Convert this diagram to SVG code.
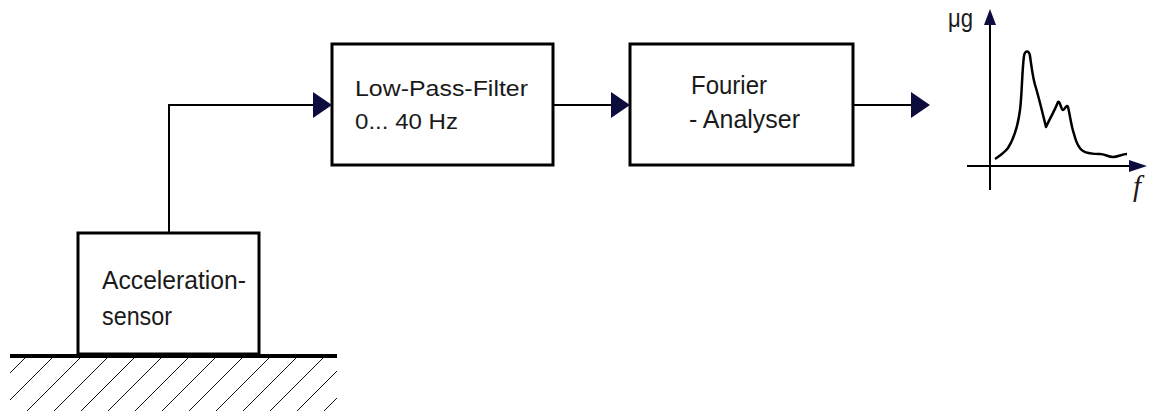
<svg xmlns="http://www.w3.org/2000/svg" width="1153" height="411" viewBox="0 0 1153 411">
<defs>
<style>
.box{fill:#fff;stroke:#000;stroke-width:3}
.ln{fill:none;stroke:#000;stroke-width:2}
.ah{fill:#0d0d3d}
.t{font-family:"Liberation Sans",Arial,sans-serif;font-size:26px;fill:#1a1a1a}
.tf{font-family:"Liberation Sans",Arial,sans-serif;font-size:21.5px;fill:#1a1a1a}
.h{stroke:#111;stroke-width:1}
</style>
<clipPath id="hc"><rect x="10" y="358" width="327" height="53"/></clipPath>
</defs>
<rect width="1153" height="411" fill="#fff"/>
<g id="ground">
<line x1="10" y1="356" x2="337" y2="356" stroke="#000" stroke-width="4"/>
<g class="h" clip-path="url(#hc)">
<line x1="25" y1="358" x2="-28" y2="411"/>
<line x1="52" y1="358" x2="-1" y2="411"/>
<line x1="80" y1="358" x2="27" y2="411"/>
<line x1="107" y1="358" x2="54" y2="411"/>
<line x1="134" y1="358" x2="81" y2="411"/>
<line x1="161" y1="358" x2="108" y2="411"/>
<line x1="188" y1="358" x2="135" y2="411"/>
<line x1="215" y1="358" x2="162" y2="411"/>
<line x1="242" y1="358" x2="189" y2="411"/>
<line x1="269" y1="358" x2="216" y2="411"/>
<line x1="296" y1="358" x2="243" y2="411"/>
<line x1="323" y1="358" x2="270" y2="411"/>
<line x1="350" y1="358" x2="297" y2="411"/>
<line x1="377" y1="358" x2="324" y2="411"/>
</g>
</g>
<g id="sensor">
<rect class="box" x="78" y="233" width="181" height="121"/>
<text class="t" x="102" y="289" textLength="144" lengthAdjust="spacingAndGlyphs">Acceleration-</text>
<text class="t" x="102" y="325" textLength="70" lengthAdjust="spacingAndGlyphs">sensor</text>
</g>
<g id="filter">
<rect class="box" x="332" y="44" width="221" height="121"/>
<text class="tf" x="355" y="96" textLength="173" lengthAdjust="spacingAndGlyphs">Low-Pass-Filter</text>
<text class="tf" x="355" y="129" textLength="103" lengthAdjust="spacingAndGlyphs">0... 40 Hz</text>
</g>
<g id="fourier">
<rect class="box" x="630" y="44" width="223" height="121"/>
<text class="t" x="691" y="94" textLength="76" lengthAdjust="spacingAndGlyphs">Fourier</text>
<text class="t" x="689" y="128" textLength="111" lengthAdjust="spacingAndGlyphs">- Analyser</text>
</g>
<g id="connectors">
<polyline class="ln" points="169,233 169,105 314,105"/>
<polygon class="ah" points="313,92 332,105 313,118"/>
<line class="ln" x1="553" y1="105" x2="612" y2="105"/>
<polygon class="ah" points="611,92 630,105 611,118"/>
<line class="ln" x1="853" y1="105" x2="912" y2="105"/>
<polygon class="ah" points="911,92 930,105 911,118"/>
</g>
<g id="chart">
<line class="ln" x1="990" y1="190" x2="990" y2="24"/>
<polygon class="ah" points="984,25 990,9 996,25"/>
<line class="ln" x1="967" y1="166" x2="1130" y2="166"/>
<polygon class="ah" points="1129,160 1147,166 1129,172"/>
<text class="t" x="948" y="27" font-size="25" textLength="25" lengthAdjust="spacingAndGlyphs">μg</text>
<text x="1133" y="196" font-family="'Liberation Serif',serif" font-style="italic" font-size="29" fill="#1a1a1a">f</text>
<path fill="none" stroke="#000" stroke-width="2.5" stroke-linejoin="round" d="M995,159 C1001,155 1005,152 1008,148 C1013,140 1018,125 1020,110 C1022,95 1022,70 1024,56 C1025,50 1029,50 1030,56 C1032,70 1033,80 1036,88 C1040,102 1043,115 1046,127 C1050,118 1055,110 1058,102 C1060,100 1061,110 1063,110 C1065,110 1066,104 1068,107 C1070,115 1071,125 1074,134 C1076,142 1078,148 1083,151 C1088,154 1093,154 1100,154 C1105,154 1108,157 1113,157 C1118,157 1122,154 1127,154"/>
</g>
</svg>
